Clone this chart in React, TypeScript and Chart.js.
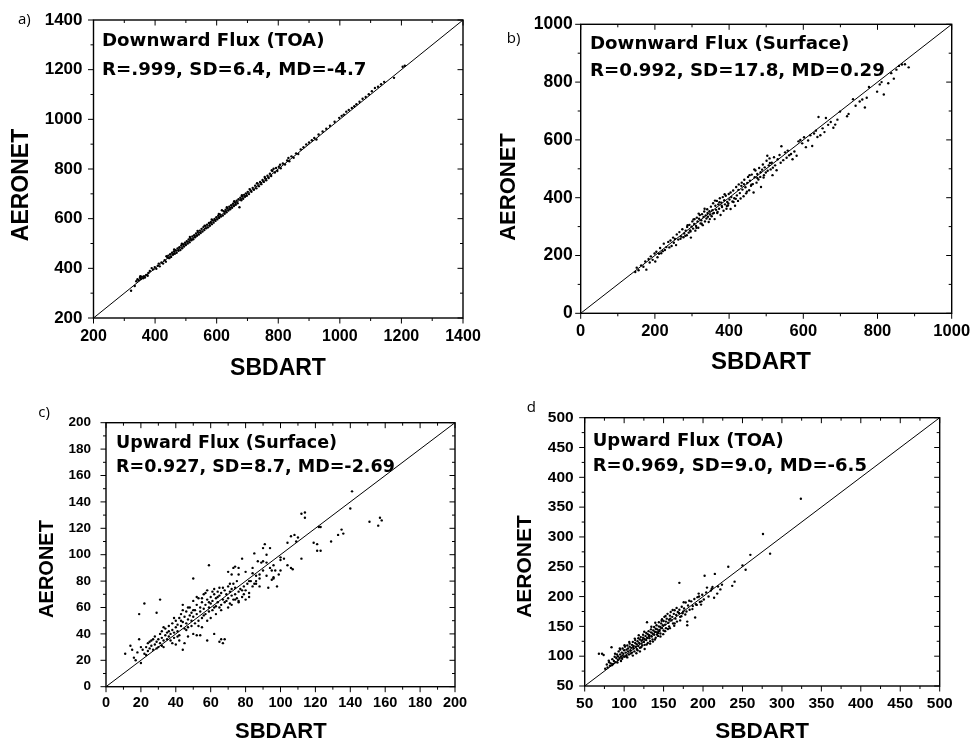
import React, { useEffect, useRef } from 'react';
import { Chart, registerables } from 'chart.js';
Chart.register(...registerables);

// ---------------- DATA ----------------
// a) Downward flux at TOA (SBDART, AERONET)
const downToaPts: [number, number][] = [
  [322,310],[334,329],[339,348],[343,356],[347,352],[351,362],[354,357],[357,366],[361,360],[364,368],
  [367,363],[371,373],[376,370],[383,389],[389,401],[394,396],[399,405],[404,398],[409,411],[415,408],
  [421,424],[426,419],[431,433],[435,427],[440,444],[443,451],[446,441],[449,457],[452,446],[455,463],
  [458,455],[461,468],[464,459],[467,473],[470,463],[473,480],[476,471],[479,485],[482,474],[485,492],
  [488,481],[491,497],[494,488],[497,503],[500,494],[503,509],[506,500],[509,516],[512,505],[515,520],
  [518,513],[521,528],[524,517],[527,533],[530,525],[533,540],[536,531],[539,546],[542,536],[545,552],
  [548,542],[551,559],[554,548],[557,566],[560,554],[563,571],[566,561],[569,576],[572,565],[575,583],
  [578,571],[581,587],[584,578],[587,594],[590,584],[593,599],[596,591],[599,606],[602,597],[605,612],
  [608,603],[611,617],[614,609],[617,634],[620,613],[623,630],[626,620],[629,636],[632,626],[635,642],
  [638,633],[641,648],[644,638],[647,654],[650,644],[653,660],[656,651],[659,666],[662,656],[665,672],
  [668,662],[671,678],[674,646],[677,684],[680,674],[683,690],[686,680],[689,696],[692,688],[695,702],
  [698,692],[701,708],[705,699],[709,716],[713,708],[717,724],[721,716],[725,733],[729,722],[733,741],
  [737,731],[741,748],[745,739],[749,756],[753,748],[757,764],[761,755],[765,773],[769,764],[773,781],
  [777,772],[781,792],[785,801],[789,786],[793,804],[797,792],[802,809],[808,803],[815,822],[822,818],
  [829,834],[836,831],[843,851],[850,845],[858,863],[865,860],[873,879],[882,888],[891,899],[900,907],
  [909,916],[917,925],[924,919],[931,939],[944,951],[956,962],[968,974],[983,990],[998,1006],[1006,1014],
  [1013,1019],[1021,1031],[1029,1038],[1039,1046],[1047,1053],[1054,1061],[1064,1071],[1074,1083],
  [1084,1090],[1094,1101],[1104,1113],[1114,1126],[1124,1131],[1134,1141],[1144,1151],[1176,1167],
  [1204,1212],[1211,1216],
  [352,368],[378,381],[412,419],[437,449],[462,476],[487,499],[513,526],[538,551],[561,572],[584,597],
  [607,619],[633,646],[657,670],[682,694],[707,719],[731,743],[756,768],[779,795],[806,817],[833,844],
];

// b) Downward flux at surface
const downSfcPts: [number, number][] = [
  [147,143],[151,158],[156,149],[163,166],[169,161],[174,179],[177,151],[183,188],[186,176],[189,197],
  [194,185],[199,207],[201,179],[204,213],[207,194],[211,206],[214,226],[217,208],[221,215],[224,241],
  [227,219],[231,229],[236,247],[239,228],[242,252],[245,233],[249,262],[251,244],[254,257],[257,236],
  [259,273],[263,255],[266,281],[269,258],[271,266],[274,291],[277,263],[279,276],[283,286],[286,270],
  [287,299],[291,279],[293,306],[295,287],[297,262],[299,300],[301,318],[303,293],[306,309],[307,326],
  [309,286],[311,302],[313,331],[315,318],[317,296],[319,327],[321,340],[323,311],[325,322],[327,343],
  [329,305],[331,333],[333,352],[335,318],[337,339],[339,328],[341,360],[343,334],[345,316],[347,353],
  [349,342],[351,369],[353,336],[355,357],[357,381],[359,347],[361,326],[363,372],[365,358],[367,389],
  [369,351],[371,377],[373,362],[375,398],[377,340],[379,383],[381,368],[383,402],[385,355],[387,391],
  [389,377],[391,407],[393,362],[395,385],[397,373],[399,413],[401,394],[404,361],[406,402],[409,387],
  [411,425],[414,398],[416,372],[419,437],[421,408],[424,389],[426,446],[429,416],[431,397],[434,452],
  [436,428],[439,405],[441,462],[444,436],[446,415],[449,451],[451,472],[454,426],[456,459],[459,441],
  [461,480],[464,447],[466,418],[469,471],[471,494],[474,452],[476,482],[479,463],[481,503],[484,472],
  [486,437],[489,497],[491,515],[494,478],[496,505],[499,487],[501,528],[504,493],[507,512],[509,536],
  [512,498],[515,521],[518,504],[521,540],[524,512],[528,495],[531,533],[536,548],[539,521],[541,578],
  [546,530],[551,557],[555,538],[558,563],[562,547],[567,551],[571,533],[576,560],[582,545],[587,595],
  [592,600],[597,588],[602,609],[607,575],[613,598],[619,616],[624,579],[629,622],[634,632],[638,610],
  [641,679],[646,616],[652,640],[657,627],[661,676],[667,652],[674,662],[681,642],[686,653],[692,670],
  [699,698],[718,682],[722,690],[734,741],[741,718],[752,733],[759,740],[766,712],[771,746],[777,783],
  [799,767],[806,792],[811,800],[817,757],[829,796],[837,831],[844,812],[851,843],[858,856],[866,861],
  [874,862],[884,851],
  [282,268],[288,305],[296,283],[304,325],[312,296],[318,345],[326,310],[334,362],[342,347],[348,326],
  [356,345],[362,390],[368,347],[374,384],[380,372],[388,412],[394,371],[398,380],[404,418],[412,385],
  [418,396],[425,427],[433,441],[440,447],[448,421],[455,478],[460,445],[468,498],[476,468],[485,488],
  [493,470],[503,545],[510,520],[517,478],
];

// c) Upward flux at surface
const upSfcPts: [number, number][] = [
  [11,25],[14,31],[15,28],[16,22],[17,20],[19,55],[19,36],[22,63],[20,18],[29,56],[31,66],[33,30],
  [50,82],[59,92],[44,28],[52,39],[54,39],[58,35],[62,40],[65,34],[66,36],[68,36],[67,33],[112,131],
  [114,132],[114,128],[141,148],[140,135],[151,125],[156,122],[158,126],[157,128],[129,110],[133,115],
  [135,119],[136,116],[119,109],[121,108],[121,103],[123,103],[112,97],[106,90],[107,89],[100,96],
  [102,97],[98,76],[93,75],[95,81],[96,83],[97,88],[99,85],[92,100],[90,105],[91,108],[94,105],[85,101],
  [87,95],[89,94],[86,80],[84,86],[80,87],[78,97],[76,90],[74,91],[73,90],[72,85],[70,87],[73,78],
  [75,80],[79,70],[82,71],[85,78],[75,67],[82,68],[104,109],[106,114],[108,115],[110,113],[123,121],
  [122,121],[109,110],
  [21,28],[22,25],[23,30],[24,27],[24,33],[25,29],[26,31],[26,35],[27,28],[28,32],[28,38],[29,34],
  [30,30],[30,36],[31,40],[31,33],[32,37],[32,42],[33,35],[34,39],[34,44],[35,36],[35,41],[36,38],
  [36,46],[37,40],[37,35],[38,43],[38,48],[39,41],[39,37],[40,45],[40,50],[41,42],[41,47],[42,52],
  [42,39],[43,46],[43,55],[44,49],[44,62],[45,44],[45,53],[46,48],[46,57],[47,51],[47,45],[48,54],
  [48,60],[49,50],[49,56],[50,53],[50,65],[51,58],[51,48],[52,62],[52,55],[53,67],[53,50],[54,60],
  [54,57],[55,64],[55,52],[56,70],[56,59],[57,62],[57,55],[58,66],[58,73],[59,60],[59,57],[60,68],
  [60,63],[61,65],[61,58],[62,70],[62,74],[63,67],[63,61],[64,72],[64,64],[65,69],[65,75],[66,62],
  [66,71],[67,66],[68,73],[68,64],[69,70],[70,67],[70,76],[71,72],[71,63],[72,69],[73,66],[74,75],
  [74,70],[76,72],[76,65],[77,74],[78,68],[79,76],[80,73],[81,78],[83,80],[84,76],[86,84],[88,85],
  [90,88],[92,94],[94,90],[96,92],[100,98],
  [40,32],[42,35],[45,33],[47,38],[50,40],[55,45],[58,50],[60,52],[63,55],[66,58],[70,60],[72,62],
  [76,64],[80,66],[86,78],[88,76],[92,84],[96,82],[100,88],[104,92],
  [18,26],[20,30],[23,24],[25,34],[27,36],[29,29],[32,31],[33,45],[36,42],[38,33],[39,52],[41,38],
  [43,50],[44,58],[46,43],[47,60],[49,46],[50,58],[52,68],[53,46],[55,67],[56,54],[57,71],[59,64],
  [61,72],[62,60],[64,68],[65,60],[67,75],[69,65],[71,78],[72,74],[74,66],[76,85],[78,73],[82,80],
  [84,90],[88,82],[90,95],[95,88],
];

// d) Upward flux at TOA
const upToaPts: [number, number][] = [
  [68,104],[72,104],[74,102],[84,115],[170,223],[202,235],[215,238],[232,250],[237,218],[240,225],
  [250,252],[254,245],[260,270],[276,305],[285,272],[324,364],[214,198],[218,205],[222,212],[210,210],
  [205,215],[212,216],[195,200],[198,192],[192,186],[190,165],[180,152],[180,158],[175,175],
  [76,79],[78,86],[79,81],[81,90],[82,84],[83,88],[85,95],[86,87],[87,92],[88,99],[89,90],[90,97],
  [91,103],[92,94],[92,100],[93,108],[94,97],[95,103],[95,111],[96,99],[97,106],[98,101],[98,113],
  [99,104],[100,110],[100,99],[101,116],[102,106],[103,111],[103,101],[104,118],[105,108],[105,113],
  [106,103],[107,116],[107,121],[108,110],[109,114],[110,106],[110,119],[111,124],[112,113],[112,117],
  [113,108],[114,122],[114,127],[115,116],[116,120],[116,112],[117,125],[118,130],[118,117],[119,122],
  [120,114],[120,128],[121,132],[122,121],[122,126],[123,118],[124,131],[124,136],[125,124],[126,129],
  [126,119],[127,134],[128,139],[128,127],[129,131],[130,122],[130,137],[131,142],[132,130],[132,135],
  [133,125],[134,140],[134,145],[135,133],[136,138],[136,128],[137,143],[138,149],[138,136],[139,141],
  [140,131],[140,146],[141,152],[142,140],[142,145],[143,134],[144,150],[144,157],[145,144],[146,149],
  [146,138],[147,155],[148,162],[148,147],[149,152],[150,143],[150,159],[151,166],[152,153],[153,158],
  [153,147],[154,163],[155,171],[156,156],[157,161],[157,150],[158,168],[159,174],[160,160],[161,166],
  [162,155],[163,171],[164,177],[165,163],[166,169],[167,158],[168,174],[170,178],[171,166],[173,183],
  [174,172],[176,180],[178,190],[179,175],[181,185],[183,178],[185,192],[187,184],[189,196],[191,187],
  [193,199],[196,191],[199,203],[201,195],[204,207],[207,200],[211,213],[219,217],[224,220],
  [120,108],[126,112],[133,121],[139,128],[146,133],[152,142],[158,147],[164,155],[171,160],[111,101],
  [104,98],[96,92],[129,157],[117,110],[143,139],
  [80.5,92.5],[84.5,85],[88.5,104],[91.5,89.5],[94.5,113],[97.5,95.5],[100.5,118.5],[102.5,99.5],
  [106.5,124],[108.5,104.5],[111.5,115.5],[113.5,129.5],[115.5,105],[118.5,135],[121.5,115],[123.5,127.5],
  [125.5,141],[128.5,119.5],[131.5,134],[134.5,149.5],[136.5,124.5],[139.5,156],[141.5,136.5],[144.5,142],
  [147.5,159.5],[149.5,137],[152.5,167.5],[155.5,145.5],[158.5,163],[161.5,177.5],[163.5,151],[166.5,181],
  [169.5,172.5],[172.5,167],[175.5,190.5],[177.5,170],[182.5,193],[186.5,179],[194.5,205],[197.5,186.5],
];

// axis ranges [min, max], major step, minor step
const downToaRange = [200, 1400]; const downToaStep = 200; const downToaMinor = 100;
const downSfcRange = [0, 1000]; const downSfcStep = 200; const downSfcMinor = 100;
const upSfcRange = [0, 200]; const upSfcStep = 20; const upSfcMinor = 10;
const upToaRange = [50, 500]; const upToaStep = 50; const upToaMinor = 25;

const panelLetters = ['a)', 'b)', 'c)', 'd'];
const panelTitles = ['Downward Flux (TOA)', 'Downward Flux (Surface)', 'Upward Flux (Surface)', 'Upward Flux (TOA)'];
const panelStats = ['R=.999, SD=6.4, MD=-4.7', 'R=0.992, SD=17.8, MD=0.29', 'R=0.927, SD=8.7, MD=-2.69', 'R=0.969, SD=9.0, MD=-6.5'];
const xAxisTitle = 'SBDART';
const yAxisTitle = 'AERONET';

// ---------------- LAYOUT ----------------
type PanelCfg = {
  pts: [number, number][];
  range: number[]; step: number; minor: number;
  letter: string; title: string; stats: string;
  ox: number; oy: number; w: number; h: number;
  L: number; R: number; T: number; B: number;
  yPad: number; xPad: number; yFont: number; xFont: number;
  letterX: number; letterY: number;
  noteX: number; noteY1: number; noteY2: number; noteSize: number;
  yTx: number; yTy: number; yTs: number;
  xTx: number; xTy: number; xTs: number;
};

const panels: PanelCfg[] = [
  {
    pts: downToaPts, range: downToaRange, step: downToaStep, minor: downToaMinor,
    letter: panelLetters[0], title: panelTitles[0], stats: panelStats[0],
    ox: 0, oy: 0, w: 486, h: 385, L: 93.5, R: 463, T: 20, B: 318,
    yPad: 11, xPad: 9, yFont: 17, xFont: 16,
    letterX: 18, letterY: 20, noteX: 102, noteY1: 41.7, noteY2: 70, noteSize: 18.2,
    yTx: 22, yTy: 185, yTs: 23, xTx: 278, xTy: 368.5, xTs: 23,
  },
  {
    pts: downSfcPts, range: downSfcRange, step: downSfcStep, minor: downSfcMinor,
    letter: panelLetters[1], title: panelTitles[1], stats: panelStats[1],
    ox: 486, oy: 0, w: 486, h: 385, L: 94.7, R: 465.7, T: 24.3, B: 313.3,
    yPad: 8, xPad: 8, yFont: 17.5, xFont: 16.5,
    letterX: 20.7, letterY: 39, noteX: 104, noteY1: 44.3, noteY2: 71, noteSize: 18.2,
    yTx: 22.5, yTy: 187, yTs: 22, xTx: 275, xTy: 362.5, xTs: 24,
  },
  {
    pts: upSfcPts, range: upSfcRange, step: upSfcStep, minor: upSfcMinor,
    letter: panelLetters[2], title: panelTitles[2], stats: panelStats[2],
    ox: 0, oy: 380, w: 486, h: 360, L: 106, R: 455, T: 42.7, B: 306.7,
    yPad: 15, xPad: 8, yFont: 13.5, xFont: 14.5,
    letterX: 38.3, letterY: 32.5, noteX: 116, noteY1: 63.3, noteY2: 87.3, noteSize: 17.5,
    yTx: 47, yTy: 189, yTs: 20, xTx: 280.8, xTy: 352, xTs: 22,
  },
  {
    pts: upToaPts, range: upToaRange, step: upToaStep, minor: upToaMinor,
    letter: panelLetters[3], title: panelTitles[3], stats: panelStats[3],
    ox: 486, oy: 380, w: 486, h: 360, L: 98.7, R: 453.7, T: 37.7, B: 306,
    yPad: 11, xPad: 8, yFont: 15.5, xFont: 15.5,
    letterX: 40.7, letterY: 28, noteX: 106.7, noteY1: 61, noteY2: 86, noteSize: 18,
    yTx: 39, yTy: 186.5, yTs: 21, xTx: 276, xTy: 351.7, xTs: 22.5,
  },
];

const TICK_FONT = '"Liberation Sans", Arial, sans-serif';
const NOTE_FONT = '"DejaVu Sans", sans-serif';

function makeDecor(cfg: PanelCfg) {
  return {
    id: 'panelDecor',
    afterDraw(chart: any) {
      const ctx: CanvasRenderingContext2D = chart.ctx;
      const { left, right, top, bottom } = chart.chartArea;
      const xs = chart.scales.x;
      const ys = chart.scales.y;
      ctx.save();
      ctx.strokeStyle = '#000';
      ctx.lineWidth = 1;
      const [mn, mx] = cfg.range;
      for (let i = 0; mn + i * cfg.minor <= mx + 1e-9; i++) {
        const v = mn + i * cfg.minor;
        const major = Math.abs((v - mn) / cfg.step - Math.round((v - mn) / cfg.step)) < 1e-6;
        const len = major ? 5.5 : 3;
        const px = xs.getPixelForValue(v);
        const py = ys.getPixelForValue(v);
        ctx.beginPath();
        ctx.moveTo(px, bottom); ctx.lineTo(px, bottom + len);
        ctx.moveTo(px, top); ctx.lineTo(px, top + len);
        ctx.moveTo(left, py); ctx.lineTo(left - len, py);
        ctx.moveTo(right, py); ctx.lineTo(right - len, py);
        ctx.stroke();
      }
      ctx.lineWidth = 1.4;
      ctx.strokeRect(left, top, right - left, bottom - top);

      ctx.fillStyle = '#000';
      ctx.font = '15px "Open Sans", sans-serif';
      ctx.textAlign = 'left';
      ctx.textBaseline = 'middle';
      ctx.fillText(cfg.letter, cfg.letterX, cfg.letterY);
      ctx.font = `bold ${cfg.noteSize}px ${NOTE_FONT}`;
      ctx.fillText(cfg.title, cfg.noteX, cfg.noteY1);
      ctx.fillText(cfg.stats, cfg.noteX, cfg.noteY2);
      ctx.textAlign = 'center';
      ctx.font = `bold ${cfg.xTs}px ${TICK_FONT}`;
      ctx.fillText(xAxisTitle, cfg.xTx, cfg.xTy);
      ctx.translate(cfg.yTx, cfg.yTy);
      ctx.rotate(-Math.PI / 2);
      ctx.font = `bold ${cfg.yTs}px ${TICK_FONT}`;
      ctx.fillText(yAxisTitle, 0, 0);
      ctx.restore();
    },
  };
}

function Panel({ cfg }: { cfg: PanelCfg }) {
  const ref = useRef<HTMLCanvasElement>(null);
  useEffect(() => {
    const [mn, mx] = cfg.range;
    const chart = new Chart(ref.current as HTMLCanvasElement, {
      type: 'scatter',
      data: {
        datasets: [
          {
            data: cfg.pts.map(([x, y]) => ({ x, y })),
            backgroundColor: '#000',
            borderWidth: 0,
            pointRadius: 1.2,
            pointHoverRadius: 1.2,
          },
          {
            data: [{ x: mn, y: mn }, { x: mx, y: mx }],
            showLine: true,
            borderColor: '#000',
            borderWidth: 1,
            pointRadius: 0,
            pointHoverRadius: 0,
          } as any,
        ],
      },
      options: {
        animation: false,
        responsive: false,
        devicePixelRatio: 1,
        events: [],
        layout: { padding: { left: 0, top: cfg.T, right: cfg.w - cfg.R, bottom: 0 } },
        plugins: { legend: { display: false }, tooltip: { enabled: false } },
        scales: {
          x: {
            type: 'linear', min: mn, max: mx,
            grid: { display: false, drawTicks: false },
            border: { display: false },
            ticks: {
              stepSize: cfg.step, autoSkip: false, maxRotation: 0, minRotation: 0,
              color: '#000', padding: cfg.xPad,
              callback: (v: any) => String(v),
              font: { family: TICK_FONT, weight: 'bold', size: cfg.xFont },
            },
            afterFit: (s: any) => { s.height = cfg.h - cfg.B; s.paddingLeft = 0; s.paddingRight = 0; },
          },
          y: {
            type: 'linear', min: mn, max: mx,
            grid: { display: false, drawTicks: false },
            border: { display: false },
            ticks: {
              stepSize: cfg.step, autoSkip: false,
              color: '#000', padding: cfg.yPad,
              callback: (v: any) => String(v),
              font: { family: TICK_FONT, weight: 'bold', size: cfg.yFont },
            },
            afterFit: (s: any) => { s.width = cfg.L; s.paddingTop = 0; s.paddingBottom = 0; },
          },
        },
      },
      plugins: [makeDecor(cfg)],
    } as any);
    return () => chart.destroy();
  }, [cfg]);
  return (
    <canvas
      ref={ref}
      width={cfg.w}
      height={cfg.h}
      style={{ position: 'absolute', left: cfg.ox, top: cfg.oy, width: cfg.w, height: cfg.h }}
    />
  );
}

export default function App() {
  return (
    <div style={{ position: 'absolute', left: 0, top: 0, width: 972, height: 740, background: '#fff', overflow: 'hidden' }}>
      {panels.map((p, i) => (
        <Panel key={i} cfg={p} />
      ))}
    </div>
  );
}
